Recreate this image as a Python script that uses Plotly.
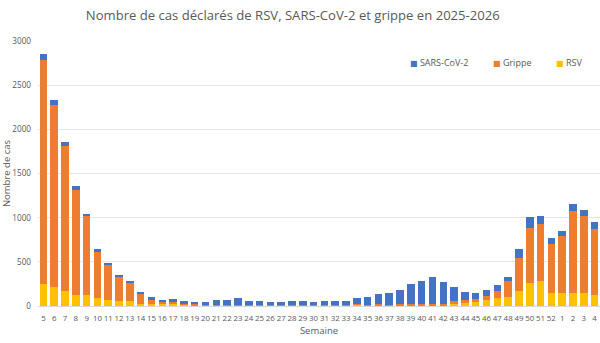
import plotly.graph_objects as go

weeks = [str(w) for w in range(5, 53)] + ["1", "2", "3", "4"]

sars = [68, 52, 54, 49, 26, 37, 26, 26, 26, 23, 37, 27, 34, 31, 22,
        37, 57, 65, 84, 55, 55, 40, 37, 48, 48, 45, 52, 55, 51,
        72, 88, 112, 128, 155, 225, 268, 298, 255, 154, 95, 69, 64, 68, 49,
        94, 117, 94, 72, 61, 76, 68, 83]
grippe = [2530, 2058, 1636, 1184, 894, 520, 389, 264, 204, 110, 39, 22, 22, 11, 15,
          8, 5, 4, 4, 4, 4, 4, 3, 3, 3, 3, 3, 4, 4,
          5, 8, 12, 8, 14, 12, 10, 18, 10, 30, 30, 38, 50, 76, 182,
          375, 629, 645, 557, 648, 928, 879, 751]
rsv = [251, 218, 172, 127, 123, 90, 70, 59, 55, 28, 26, 23, 23, 15, 8,
       5, 4, 4, 4, 3, 3, 3, 3, 3, 3, 3, 3, 3, 3,
       17, 7, 8, 7, 8, 8, 8, 10, 8, 27, 34, 45, 64, 91, 102,
       171, 258, 284, 144, 144, 152, 144, 121]

series_names = ["SARS-CoV-2", "Grippe", "RSV"]
series_colors = {"SARS-CoV-2": "#4472C4", "Grippe": "#ED7D31", "RSV": "#FFC000"}

font_family = "Open Sans, DejaVu Sans, sans-serif"
grey = "#595959"

fig = go.Figure()
fig.add_trace(go.Bar(x=weeks, y=rsv, name="RSV", marker_color=series_colors["RSV"],
                     marker_line_width=0, showlegend=False))
fig.add_trace(go.Bar(x=weeks, y=grippe, name="Grippe", marker_color=series_colors["Grippe"],
                     marker_line_width=0, showlegend=False))
fig.add_trace(go.Bar(x=weeks, y=sars, name="SARS-CoV-2", marker_color=series_colors["SARS-CoV-2"],
                     marker_line_width=0, showlegend=False))

# legend drawn as text entries with coloured squares
legend_x = {"SARS-CoV-2": 408, "Grippe": 491, "RSV": 554}
for name in series_names:
    fig.add_annotation(
        xref="paper", yref="paper",
        x=(legend_x[name] - 38) / 562, y=(305.8 - 62.5) / 265.1,
        xanchor="left", yanchor="middle", showarrow=False,
        text=f"<span style='color:{series_colors[name]};font-size:8px'>■</span> {name}",
        font=dict(size=9, color=grey, family=font_family),
    )

fig.update_layout(
    width=600, height=343,
    barmode="stack", bargap=0.3,
    paper_bgcolor="white", plot_bgcolor="white",
    margin=dict(l=38, r=0, t=41, b=37),
    font=dict(family=font_family, color=grey, size=9),
    title=dict(text="Nombre de cas déclarés de RSV, SARS-CoV-2 et grippe en 2025-2026",
               x=0.488, xanchor="center", xref="container", y=0.955, yref="container",
               yanchor="middle",
               font=dict(size=13.1, color=grey, family=font_family)),
    xaxis=dict(type="category", tickfont=dict(size=7.9, color=grey), ticks="",
               dtick=1, tickangle=0, ticklabelstandoff=5,
               showline=True, linecolor="#d9d9d9", linewidth=1,
               title=dict(text="Semaine", font=dict(size=9.5, color=grey), standoff=4)),
    yaxis=dict(range=[0, 3000], dtick=500, showgrid=True, gridcolor="#e5e5e5",
               zeroline=False, tickfont=dict(size=8.2, color=grey), ticklabelstandoff=6,
               title=dict(text="Nombre de cas", font=dict(size=9.5, color=grey), standoff=6)),
)

fig.write_html("out.html")
